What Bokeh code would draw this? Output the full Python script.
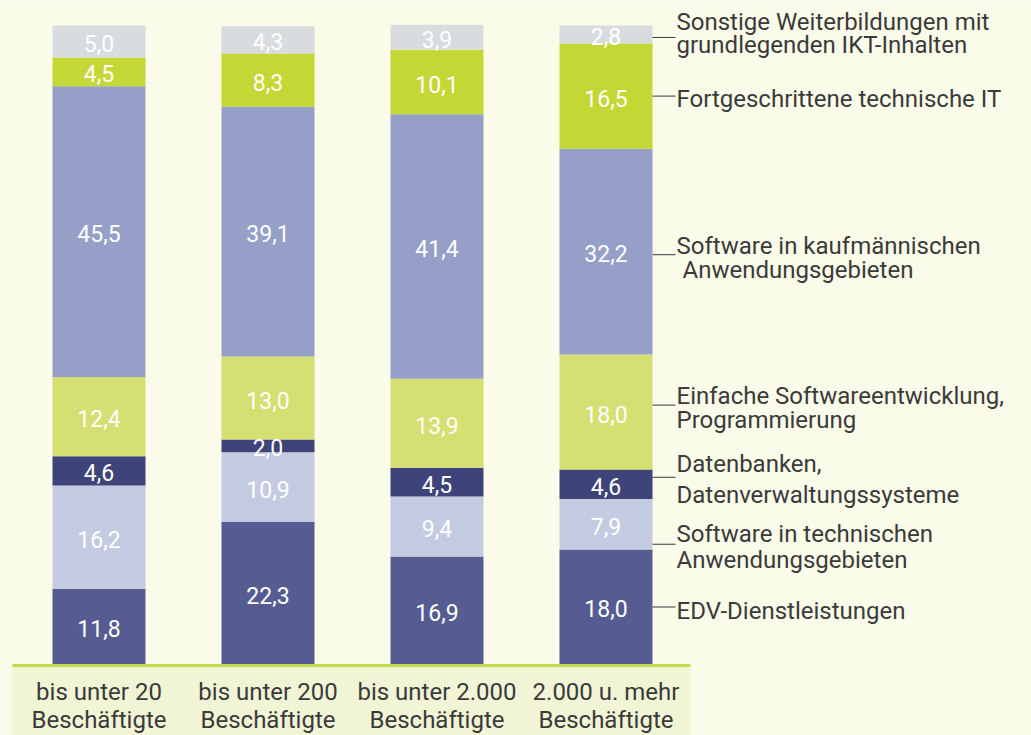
import numpy as np
from bokeh.plotting import figure
from bokeh.models import ColumnDataSource, Range1d
from bokeh.core.properties import value
from bokeh.embed import file_html
from bokeh.resources import INLINE

# ---------------- data ----------------
categories = ["bis unter 20\nBeschäftigte", "bis unter 200\nBeschäftigte",
              "bis unter 2.000\nBeschäftigte", "2.000 u. mehr\nBeschäftigte"]
series = ["EDV-Dienstleistungen",
          "Software in technischen\nAnwendungsgebieten",
          "Datenbanken,\nDatenverwaltungssysteme",
          "Einfache Softwareentwicklung,\nProgrammierung",
          "Software in kaufmännischen\n Anwendungsgebieten",
          "Fortgeschrittene technische IT",
          "Sonstige Weiterbildungen mit\ngrundlegenden IKT-Inhalten"]
edv = [11.8, 22.3, 16.9, 18.0]
sw_tech = [16.2, 10.9, 9.4, 7.9]
datenbanken = [4.6, 2.0, 4.5, 4.6]
einfache = [12.4, 13.0, 13.9, 18.0]
sw_kauf = [45.5, 39.1, 41.4, 32.2]
fortgeschr = [4.5, 8.3, 10.1, 16.5]
sonstige = [5.0, 4.3, 3.9, 2.8]

colors = ["#565c92", "#c5cae3", "#3e4479", "#d4e072", "#959fc8", "#c3d735", "#d9dcdf"]

# ---------------- layout helpers ----------------
PX = 1 / 6.39            # data units per pixel (vertical)
HX = 1 / 169.0           # data units per pixel (horizontal)
FONT = value("Roboto")
BG = "#fafbe9"
TXT = "#3a3a3a"
BASE_FIX = 9             # px correction for alphabetic baseline placement

W, H = 1031, 735
p = figure(width=W, height=H, output_backend="svg", toolbar_location=None,
           x_range=Range1d(-98.5 * HX, -98.5 * HX + W * HX),
           y_range=Range1d(-(H - 664) * PX, 664 * PX),
           min_border=0, outline_line_color=None)
p.background_fill_color = BG
p.border_fill_color = BG
p.xaxis.visible = False
p.yaxis.visible = False
p.xgrid.visible = False
p.ygrid.visible = False

x = list(range(len(categories)))
keys = ["edv", "sw_tech", "datenbanken", "einfache", "sw_kauf", "fortgeschr", "sonstige"]
vals = [edv, sw_tech, datenbanken, einfache, sw_kauf, fortgeschr, sonstige]
src = ColumnDataSource(dict(x=x, **{k: v for k, v in zip(keys, vals)}))

# band below the axis
p.quad(left=(12 - 98.5) * HX, right=(690 - 98.5) * HX, top=0, bottom=-30,
       fill_color="#f1f5d6", line_color=None)

p.vbar_stack(keys, x="x", width=93 * HX, color=colors, line_color=None, source=src)

# axis line
p.segment(x0=(12 - 98.5) * HX, x1=(690 - 98.5) * HX, y0=-1 * PX, y1=-1 * PX,
          line_color="#c5da4e", line_width=3)

# value labels
arr = np.array(vals)
cum = np.cumsum(arr, axis=0)
centers = cum - arr / 2
lx, ly, lt = [], [], []
for i in range(arr.shape[0]):
    for j in range(arr.shape[1]):
        lx.append(x[j]); ly.append(centers[i, j] - 2 * PX)
        lt.append(f"{arr[i, j]:.1f}".replace(".", ","))
p.text(x=lx, y=ly, text=lt, text_color="white", text_font=FONT,
       text_font_size="23px", text_align="center", text_baseline="middle")

# category labels
cx, cy, ct = [], [], []
for j, c in enumerate(categories):
    for k, line in enumerate(c.split("\n")):
        cx.append(x[j]); cy.append(-(700 - BASE_FIX - 664 + 28 * k) * PX); ct.append(line)
p.text(x=cx, y=cy, text=ct, text_color=TXT, text_font=FONT,
       text_font_size="24px", text_align="center", text_baseline="alphabetic")

# series labels on the right with leader lines
last_centers = centers[:, -1]
leader_shift_px = [0, 20, -7, -7, 3, 0, 3]          # small layout nudges (down = +)
line_offsets_px = [[13], [-1, 25], [-4, 27], [0, 24], [0, 24], [12], [-6, 17]]
bar_edge = x[-1] + 93 / 2 * HX
lead_y = [last_centers[i] - leader_shift_px[i] * PX for i in range(len(series))]
p.segment(x0=[bar_edge] * len(series), x1=[bar_edge + 23 * HX] * len(series),
          y0=lead_y, y1=lead_y, line_color="#3a3a3a", line_width=1)
tx, ty, tt = [], [], []
for i, name in enumerate(series):
    for k, line in enumerate(name.split("\n")):
        indent = 0
        if line.startswith(" "):
            indent = 6
            line = line.strip()
        tx.append(bar_edge + (24 + indent) * HX)
        ty.append(lead_y[i] - (line_offsets_px[i][k] - BASE_FIX) * PX)
        tt.append(line)
p.text(x=tx, y=ty, text=tt, text_color=TXT, text_font=FONT,
       text_font_size="24px", text_align="left", text_baseline="alphabetic")

open("out.html", "w").write(file_html(p, INLINE))
